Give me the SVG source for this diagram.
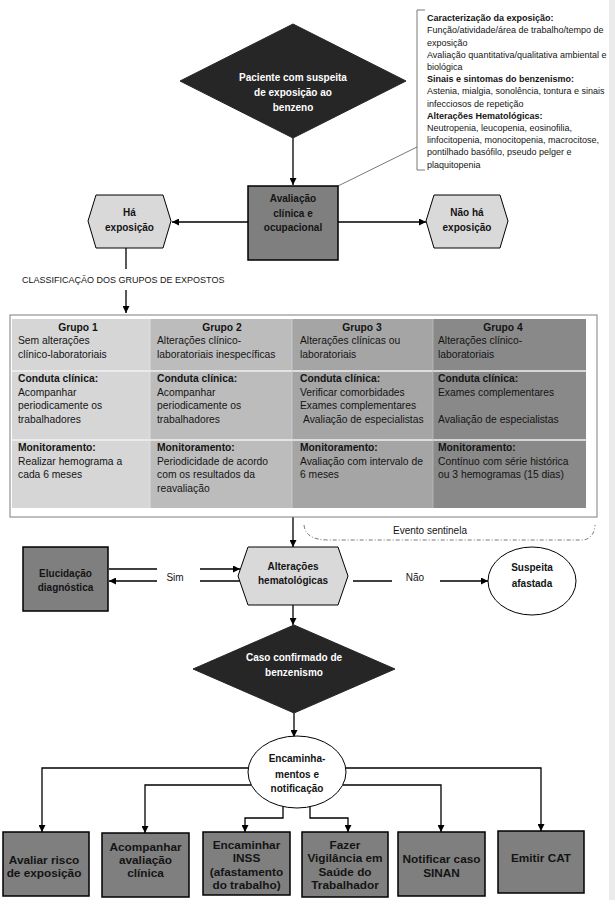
<svg xmlns="http://www.w3.org/2000/svg" width="615" height="900" viewBox="0 0 615 900">
<style>
text{font-family:"Liberation Sans",Arial,sans-serif;fill:#141414}
.b{font-weight:bold}
.m{text-anchor:middle}
.f10{font-size:10px}
.f12{font-size:11.8px}
.ft{font-size:10.3px}
.fa{font-size:9px}
.w{fill:#fff;font-weight:bold;font-size:10px;text-anchor:middle}
.box{fill:#7f7f7f;stroke:#000;stroke-width:1.5}
.hex{fill:#d9d9d9;stroke:#000;stroke-width:1}
.dia{fill:#262626;stroke:#262626;stroke-width:1}
.ell{fill:#fff;stroke:#000;stroke-width:1}
.c{fill:none;stroke:#000;stroke-width:1.3}
.a{marker-end:url(#ah)}
.thin{fill:none;stroke:#555;stroke-width:0.8}
</style>
<defs>
<marker id="ah" viewBox="0 0 10 10" refX="10" refY="5" markerWidth="7" markerHeight="7" orient="auto" markerUnits="userSpaceOnUse"><path d="M0,0 L10,5 L0,10 z" fill="#000"/></marker>
</defs>
<rect x="0" y="0" width="615" height="900" fill="#fff"/>
<rect x="609" y="0" width="6" height="900" fill="#ebebeb"/>

<g id="connectors">
<line class="c a" x1="293" y1="138" x2="293" y2="185"/>
<line class="thin" x1="338" y1="186" x2="417" y2="147"/>
<line class="c a" x1="248" y1="222" x2="172" y2="222"/>
<line class="c a" x1="338" y1="222" x2="426" y2="222"/>
<line class="c" x1="126" y1="248" x2="126" y2="269"/>
<line class="c a" x1="126" y1="290" x2="126" y2="313"/>
<line class="c a" x1="293" y1="517" x2="293" y2="547"/>
<path class="thin" d="M304,525 C305,535 313,540 328,540 L582,540 C590,540 595,533 595,525" stroke-dasharray="4,2,1,2"/>
<line class="c" x1="109" y1="569" x2="157" y2="569"/>
<line class="c a" x1="200" y1="569" x2="240" y2="569"/>
<line class="c" x1="240" y1="581" x2="200" y2="581"/>
<line class="c a" x1="157" y1="581" x2="109" y2="581"/>
<line class="c" x1="353" y1="581" x2="392" y2="581"/>
<line class="c a" x1="440" y1="581" x2="488" y2="581"/>
<line class="c a" x1="293" y1="605" x2="293" y2="625"/>
<line class="c a" x1="294" y1="713" x2="294" y2="737"/>
<polyline class="c a" points="248,768 42,768 42,832"/>
<polyline class="c a" points="346,768 541,768 541,831"/>
<polyline class="c a" points="251,785 145,785 145,833"/>
<polyline class="c a" points="343,785 441,785 441,832"/>
<polyline class="c a" points="283,806 283,818 245,818 245,832"/>
<polyline class="c a" points="310,806 310,818 348,818 348,832"/>
</g>

<g id="caracterizacao">
<path class="thin" d="M425,10 H417 V170 H425"/>
<text class="fa b" x="427" y="21.2">Caracterização da exposição:</text>
<text class="fa" x="427" y="33.4">Função/atividade/área de trabalho/tempo de</text>
<text class="fa" x="427" y="45.6">exposição</text>
<text class="fa" x="427" y="57.8">Avaliação quantitativa/qualitativa ambiental e</text>
<text class="fa" x="427" y="70">biológica</text>
<text class="fa b" x="427" y="82.2">Sinais e sintomas do benzenismo:</text>
<text class="fa" x="427" y="94.4">Astenia, mialgia, sonolência, tontura e sinais</text>
<text class="fa" x="427" y="106.6">infecciosos de repetição</text>
<text class="fa b" x="427" y="118.8">Alterações Hematológicas:</text>
<text class="fa" x="427" y="131">Neutropenia, leucopenia, eosinofilia,</text>
<text class="fa" x="427" y="143.2">linfocitopenia, monocitopenia, macrocitose,</text>
<text class="fa" x="427" y="155.4">pontilhado basófilo, pseudo pelger e</text>
<text class="fa" x="427" y="167.6">plaquitopenia</text>
</g>

<g id="paciente">
<polygon class="dia" points="293,24 406,81 293,138 180,81"/>
<text class="w" x="293" y="80.5">Paciente com suspeita</text>
<text class="w" x="293" y="95.5">de exposição ao</text>
<text class="w" x="293" y="110.5">benzeno</text>
</g>

<g id="avaliacao">
<rect class="box" x="248" y="186" width="90" height="74"/>
<text class="b m f10" x="293" y="201.5">Avaliação</text>
<text class="b m f10" x="293" y="216.5">clínica e</text>
<text class="b m f10" x="293" y="230.5">ocupacional</text>
</g>

<g id="ha-exposicao">
<polygon class="hex" points="88,221 96,195 163,195 171,221 163,248 96,248"/>
<text class="b m f10" x="129.5" y="215.5">Há</text>
<text class="b m f10" x="129.5" y="230.5">exposição</text>
</g>

<g id="nao-ha-exposicao">
<polygon class="hex" points="426,221 434,195 500,195 508,221 500,248 434,248"/>
<text class="b m f10" x="467" y="215.5">Não há</text>
<text class="b m f10" x="467" y="230.5">exposição</text>
</g>

<g id="classificacao-label">
<text class="fa" x="22" y="282.5">CLASSIFICAÇÃO DOS GRUPOS DE EXPOSTOS</text>
</g>

<g id="grupos">
<rect x="10" y="315" width="587" height="202" fill="#fff" stroke="#7f7f7f" stroke-width="1"/>
<rect x="12" y="319" width="138" height="189" fill="#d6d6d6"/>
<rect x="150" y="319" width="142" height="189" fill="#bcbcbc"/>
<rect x="292" y="319" width="141" height="189" fill="#a5a5a5"/>
<rect x="433" y="319" width="153" height="189" fill="#898989"/>
<line x1="12" y1="371" x2="586" y2="371" stroke="#f2f2f2" stroke-width="1.5"/>
<line x1="12" y1="440" x2="586" y2="440" stroke="#f2f2f2" stroke-width="1.5"/>
<line x1="150" y1="319" x2="150" y2="508" stroke="#e6e6e6" stroke-width="0.8"/>
<line x1="292" y1="319" x2="292" y2="508" stroke="#d0d0d0" stroke-width="0.8"/>
<line x1="433" y1="319" x2="433" y2="508" stroke="#bdbdbd" stroke-width="0.8"/>

<text class="ft b m" x="78" y="331">Grupo 1</text>
<text class="ft" x="18" y="344">Sem alterações</text>
<text class="ft" x="18" y="357.5">clínico-laboratoriais</text>
<text class="ft b" x="18" y="382">Conduta clínica:</text>
<text class="ft" x="18" y="395.5">Acompanhar</text>
<text class="ft" x="18" y="409">periodicamente os</text>
<text class="ft" x="18" y="423">trabalhadores</text>
<text class="ft b" x="18" y="451">Monitoramento:</text>
<text class="ft" x="18" y="464.5">Realizar hemograma a</text>
<text class="ft" x="18" y="478">cada 6 meses</text>

<text class="ft b m" x="222" y="331">Grupo 2</text>
<text class="ft" x="157" y="344">Alterações clínico-</text>
<text class="ft" x="157" y="357.5">laboratoriais inespecíficas</text>
<text class="ft b" x="157" y="382">Conduta clínica:</text>
<text class="ft" x="157" y="395.5">Acompanhar</text>
<text class="ft" x="157" y="409">periodicamente os</text>
<text class="ft" x="157" y="423">trabalhadores</text>
<text class="ft b" x="157" y="451">Monitoramento:</text>
<text class="ft" x="157" y="464.5">Periodicidade de acordo</text>
<text class="ft" x="157" y="478">com os resultados da</text>
<text class="ft" x="157" y="491.5">reavaliação</text>

<text class="ft b m" x="362" y="331">Grupo 3</text>
<text class="ft" x="300" y="344">Alterações clínicas ou</text>
<text class="ft" x="300" y="357.5">laboratoriais</text>
<text class="ft b" x="300" y="382">Conduta clínica:</text>
<text class="ft" x="300" y="395.5">Verificar comorbidades</text>
<text class="ft" x="300" y="409">Exames complementares</text>
<text class="ft" x="303" y="423">Avaliação de especialistas</text>
<text class="ft b" x="300" y="451">Monitoramento:</text>
<text class="ft" x="300" y="464.5">Avaliação com intervalo de</text>
<text class="ft" x="300" y="478">6 meses</text>

<text class="ft b m" x="503" y="331">Grupo 4</text>
<text class="ft" x="438" y="344">Alterações clínico-</text>
<text class="ft" x="438" y="357.5">laboratoriais</text>
<text class="ft b" x="438" y="382">Conduta clínica:</text>
<text class="ft" x="438" y="395.5">Exames complementares</text>
<text class="ft" x="438" y="423">Avaliação de especialistas</text>
<text class="ft b" x="438" y="451">Monitoramento:</text>
<text class="ft" x="438" y="464.5">Contínuo com série histórica</text>
<text class="ft" x="438" y="478">ou 3 hemogramas (15 dias)</text>
</g>

<g id="evento-sentinela-label">
<text class="f10 m" x="430" y="533.5">Evento sentinela</text>
</g>

<g id="alteracoes">
<polygon class="hex" points="238,576 248,547 338,547 348,576 338,605 248,605"/>
<text class="b m f10" x="293" y="569.5">Alterações</text>
<text class="b m f10" x="293" y="584">hematológicas</text>
</g>

<g id="elucidacao">
<rect class="box" x="23" y="547" width="85" height="64"/>
<text class="b m f10" x="65.5" y="576.5">Elucidação</text>
<text class="b m f10" x="65.5" y="590.5">diagnóstica</text>
</g>

<g id="sim-label"><text class="f10 m" x="175" y="580.5">Sim</text></g>
<g id="nao-label"><text class="f10 m" x="415" y="580.5">Não</text></g>

<g id="suspeita">
<ellipse class="ell" cx="532" cy="581" rx="44" ry="34"/>
<text class="b m f10" x="532" y="570.5">Suspeita</text>
<text class="b m f10" x="532" y="586.5">afastada</text>
</g>

<g id="caso-confirmado">
<polygon class="dia" points="294,625 395,669 294,713 193,669"/>
<text class="w" x="294" y="660.5">Caso confirmado de</text>
<text class="w" x="294" y="675.5">benzenismo</text>
</g>

<g id="encaminhamentos">
<ellipse class="ell" cx="297" cy="772" rx="49" ry="36"/>
<text class="b m f10" x="297" y="761.5">Encaminha-</text>
<text class="b m f10" x="297" y="777.5">mentos e</text>
<text class="b m f10" x="297" y="791.5">notificação</text>
</g>

<g id="avaliar-risco">
<rect class="box" x="3" y="832" width="86" height="64"/>
<text class="b m f12" x="44" y="864">Avaliar risco</text>
<text class="b m f12" x="44" y="877">de exposição</text>
</g>

<g id="acompanhar">
<rect class="box" x="102" y="833" width="87" height="64"/>
<text class="b m f12" x="145.5" y="851">Acompanhar</text>
<text class="b m f12" x="145.5" y="864">avaliação</text>
<text class="b m f12" x="145.5" y="877">clínica</text>
</g>

<g id="encaminhar-inss">
<rect class="box" x="203" y="832" width="87" height="63"/>
<text class="b m f12" x="246.5" y="849">Encaminhar</text>
<text class="b m f12" x="246.5" y="862">INSS</text>
<text class="b m f12" x="246.5" y="876">(afastamento</text>
<text class="b m f12" x="246.5" y="889">do trabalho)</text>
</g>

<g id="vigilancia">
<rect class="box" x="302" y="832" width="86" height="65"/>
<text class="b m f12" x="345" y="849">Fazer</text>
<text class="b m f12" x="345" y="862">Vigilância em</text>
<text class="b m f12" x="345" y="876">Saúde do</text>
<text class="b m f12" x="345" y="889">Trabalhador</text>
</g>

<g id="notificar">
<rect class="box" x="398" y="832" width="87" height="64"/>
<text class="b m f12" x="441.5" y="863">Notificar caso</text>
<text class="b m f12" x="441.5" y="876.5">SINAN</text>
</g>

<g id="emitir-cat">
<rect class="box" x="498" y="831" width="86" height="62"/>
<text class="b m f12" x="541" y="862">Emitir CAT</text>
</g>
</svg>
